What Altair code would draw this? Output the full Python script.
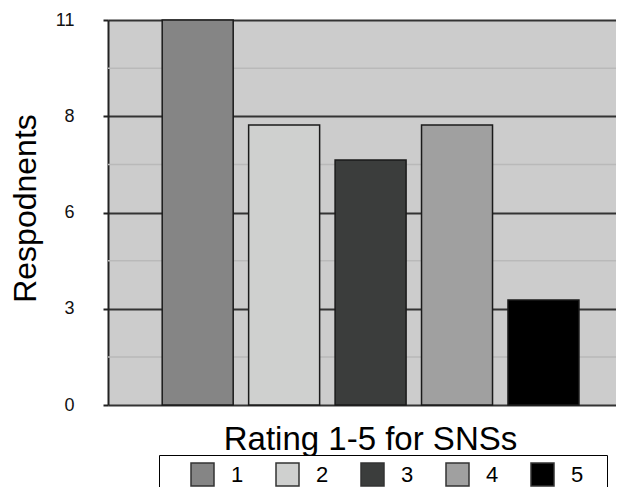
import altair as alt
import pandas as pd

# ---- data ----
ratings = [1, 2, 3, 4, 5]
rating_labels = ["1", "2", "3", "4", "5"]
respondents = [11, 8, 7, 8, 3]
bar_colors = ["#858585", "#cfd0cf", "#3b3d3c", "#a0a0a0", "#000000"]
major_ticks = [0, 2.75, 5.5, 8.25, 11]
minor_ticks = [1.375, 4.125, 6.875, 9.625]

FONT = "Liberation Sans"
BLANK = "\u2800"  # blank glyph used only to widen the legend box on the right

df = pd.DataFrame({"rating": ratings, "label": rating_labels, "respondents": respondents})
minor_df = pd.DataFrame({"v": minor_ticks})

yscale = alt.Scale(domain=[0, 11], nice=False, zero=True)
y_axis = alt.Axis(
    values=major_ticks,
    labelExpr="round(datum.value) + ''",
    labelFont=FONT, labelFontSize=18, labelColor="#111111",
    labelPadding=29, tickSize=5, tickColor="#222222", tickWidth=2,
    domainColor="#222222", domainWidth=2,
    grid=True, gridColor="#333333", gridWidth=2,
    title="Respodnents", titleFont=FONT, titleFontSize=32,
    titleFontWeight="normal", titleColor="#000000",
    titleX=-73, titleY=188, titleBaseline="alphabetic", titleAngle=270,
)

minor = alt.Chart(minor_df).mark_rule(color="#b9b9b9", strokeWidth=1.5).encode(
    y=alt.Y("v:Q", scale=yscale, axis=y_axis, title="Respodnents")
)

bars = alt.Chart(df).mark_bar(size=71, stroke="#1a1a1a", strokeWidth=1.5).encode(
    x=alt.X(
        "rating:Q",
        scale=alt.Scale(domain=[-0.0376, 5.839], nice=False, zero=False, padding=0),
        axis=alt.Axis(
            labels=False, ticks=False, domain=False, grid=False,
            title="Rating 1-5 for SNSs", titleFont=FONT, titleFontSize=33,
            titleFontWeight="normal", titleColor="#000000",
            titleX=262, titleY=44, titleBaseline="alphabetic", titleAlign="center",
        ),
    ),
    y=alt.Y("respondents:Q", scale=yscale, axis=y_axis, title="Respodnents"),
    color=alt.Color(
        "label:N",
        scale=alt.Scale(domain=rating_labels, range=bar_colors),
        legend=alt.Legend(
            orient="none", legendX=51, legendY=435, direction="horizontal",
            title="", padding=7,
            strokeColor="#000000", fillColor="#ffffff",
            symbolType="square", symbolSize=529, symbolStrokeColor="#333333",
            symbolStrokeWidth=1.5, symbolOpacity=1, symbolOffset=24,
            labelFont=FONT, labelFontSize=22, labelColor="#000000", labelOffset=16,
            columnPadding=7,
            labelExpr="datum.label == '5' ? '5" + BLANK + "' : datum.label",
        ),
    ),
)

chart = alt.layer(minor, bars).properties(
    width=508,
    height=385,
    autosize=alt.AutoSizeParams(type="none"),
    padding={"left": 100, "top": 12, "right": 0, "bottom": 82},
    background="#ffffff",
).configure_view(fill="#cccccc", strokeWidth=0)

chart.save("out.html", embed_options={"renderer": "svg", "actions": False})
